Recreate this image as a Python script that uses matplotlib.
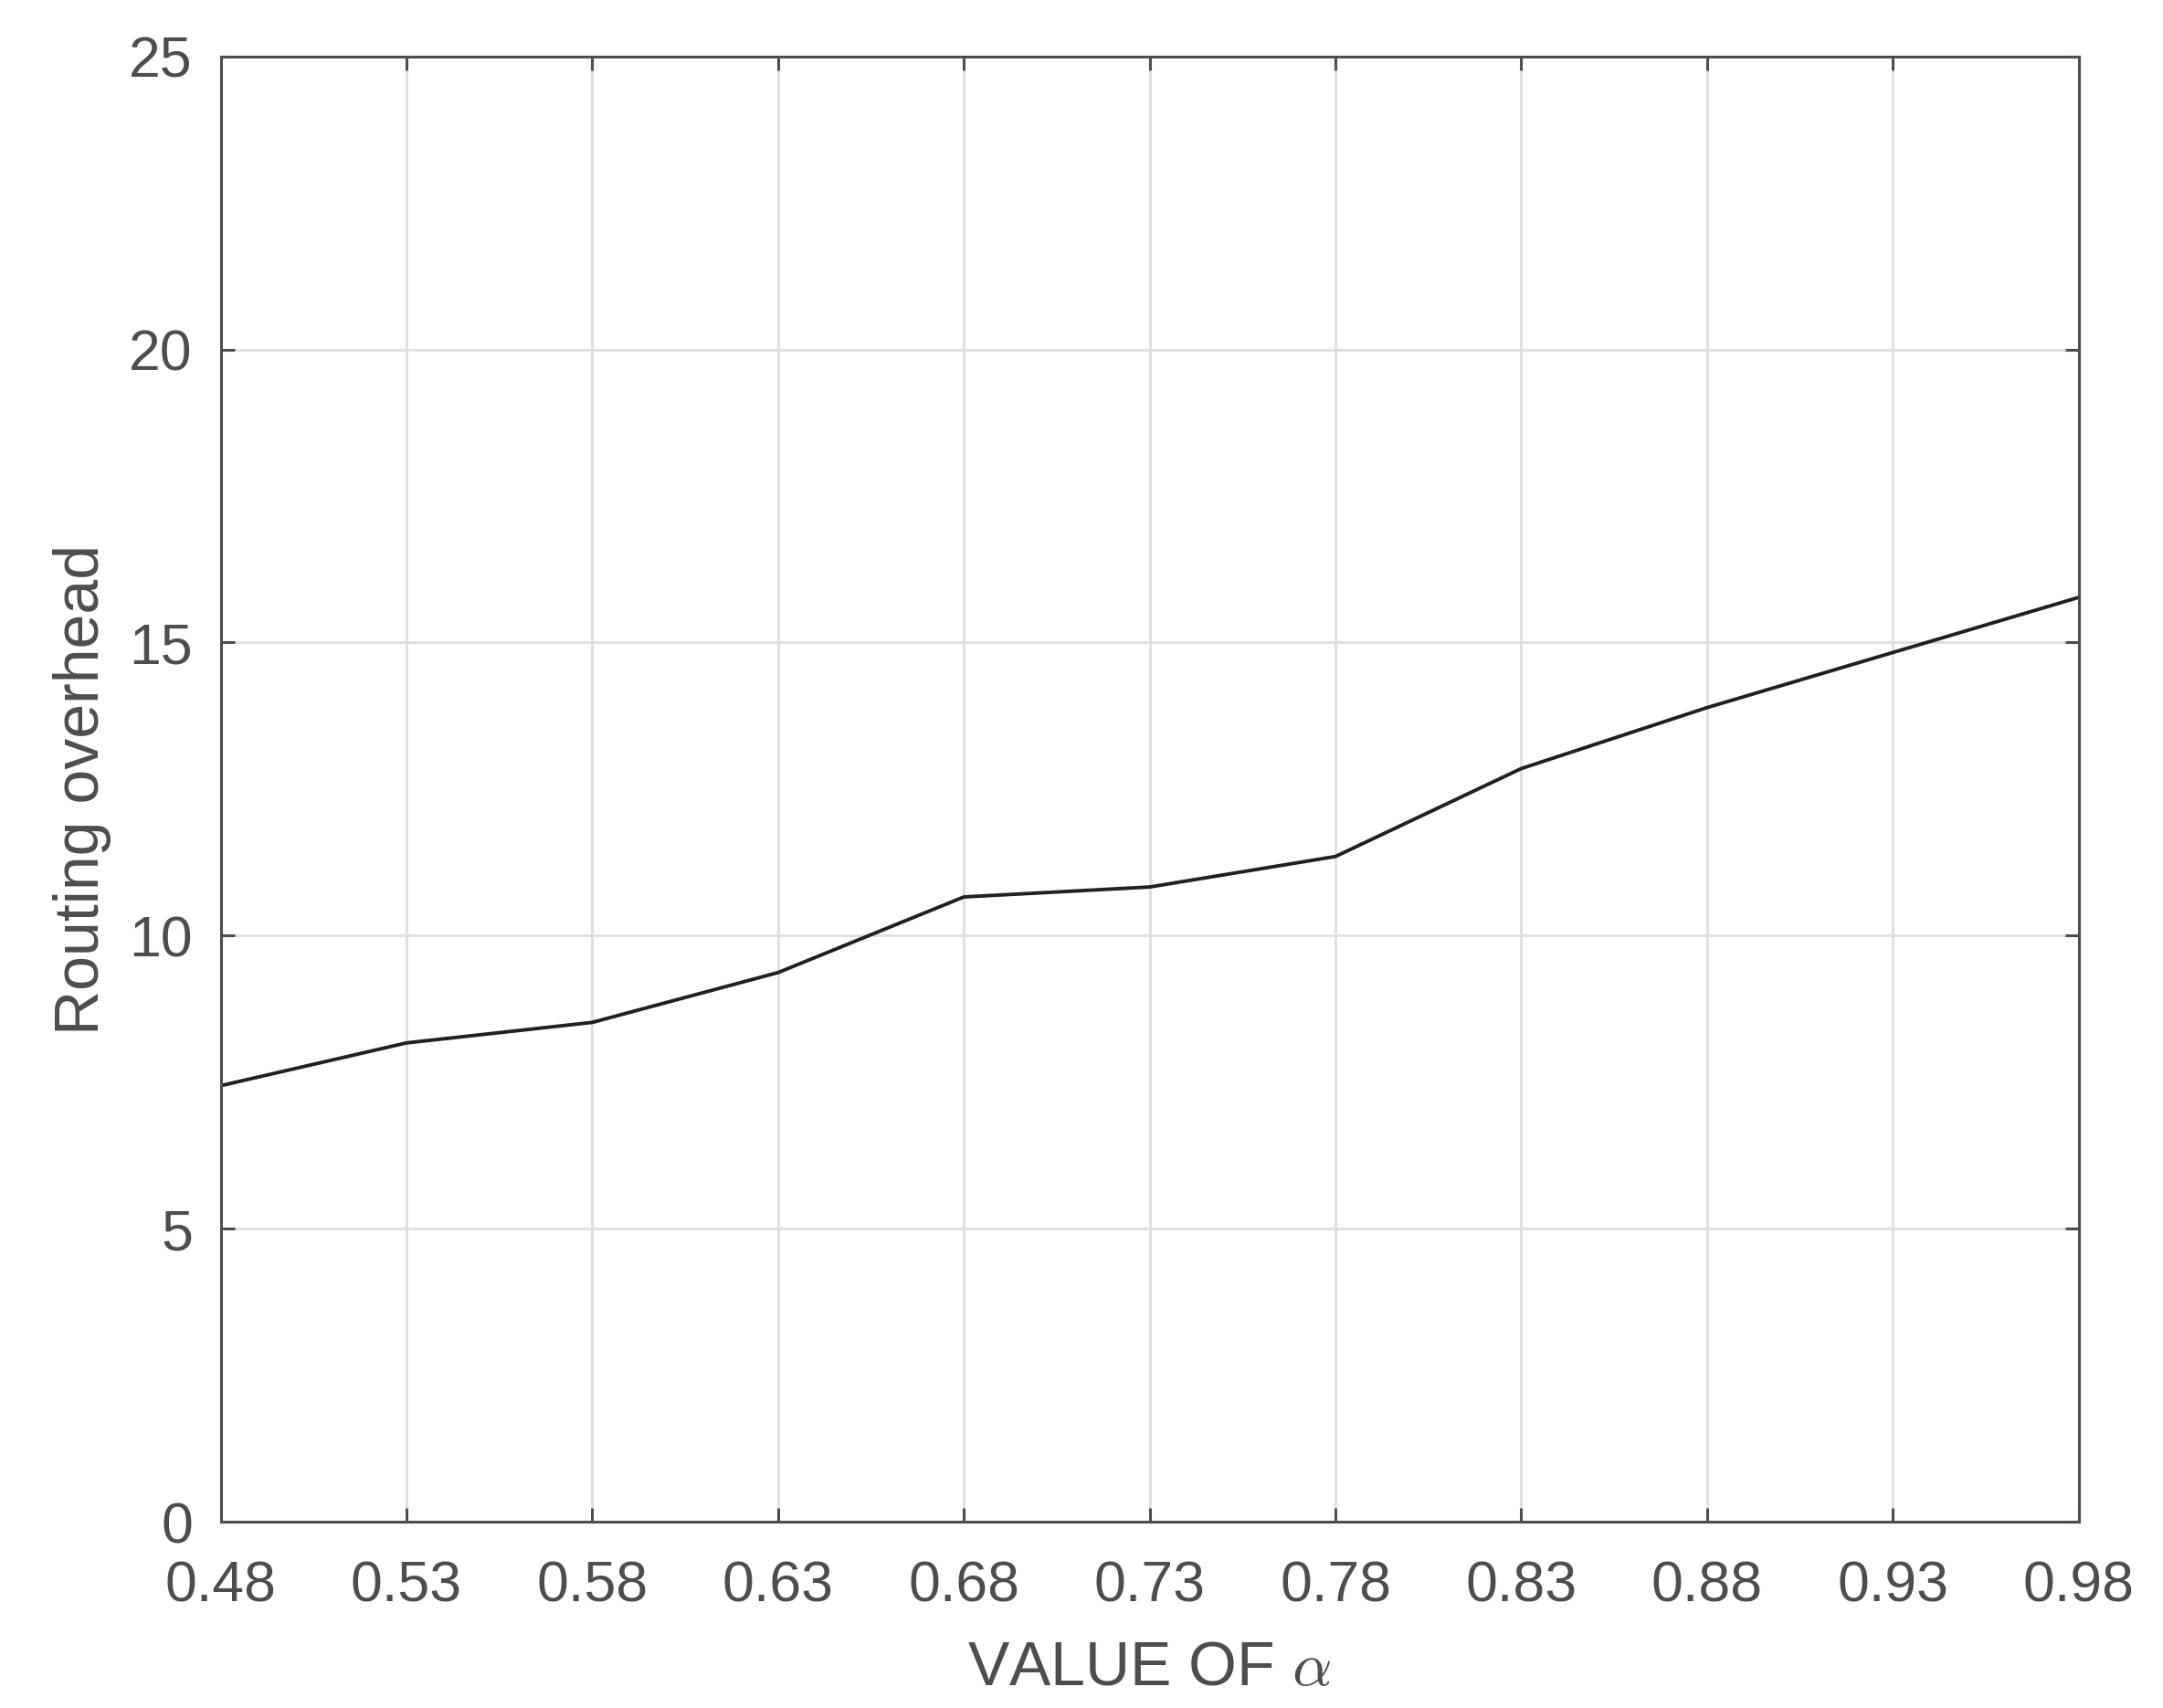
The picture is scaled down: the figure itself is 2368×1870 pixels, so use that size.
import matplotlib
matplotlib.use("Agg")
import matplotlib.pyplot as plt

# data
alpha = [0.48, 0.53, 0.58, 0.63, 0.68, 0.73, 0.78, 0.83, 0.88, 0.93, 0.98]
overhead = [7.44, 8.17, 8.52, 9.37, 10.66, 10.83, 11.35, 12.85, 13.89, 14.83, 15.77]
x_ticks = [0.48, 0.53, 0.58, 0.63, 0.68, 0.73, 0.78, 0.83, 0.88, 0.93, 0.98]
x_tick_labels = ["0.48", "0.53", "0.58", "0.63", "0.68", "0.73", "0.78", "0.83", "0.88", "0.93", "0.98"]
y_ticks = [0, 5, 10, 15, 20, 25]

plt.rcParams["font.family"] = ["Liberation Sans", "DejaVu Sans"]
plt.rcParams["mathtext.fontset"] = "cm"

axis_col = "#4d4d4d"

fig = plt.figure(figsize=(11.84, 9.35), dpi=200)
ax = fig.add_axes([0.102, 0.109, 0.859, 0.858])

ax.plot(alpha, overhead, color="#231f20", linewidth=1.4)

ax.set_xlim(0.48, 0.98)
ax.set_ylim(0, 25)
ax.set_xticks(x_ticks)
ax.set_xticklabels(x_tick_labels)
ax.set_yticks(y_ticks)

ax.grid(True, color="#dedede", linewidth=1.0)
ax.set_axisbelow(True)

for s in ax.spines.values():
    s.set_color(axis_col)
    s.set_linewidth(1.1)

ax.tick_params(direction="in", length=5.5, width=1.1, colors=axis_col,
               labelsize=22.5, top=True, right=True)
ax.tick_params(axis="x", pad=15)
ax.tick_params(axis="y", pad=11)

ax.set_xlabel("VALUE OF $\\alpha$", fontsize=24.5, color=axis_col, labelpad=10)
ax.set_ylabel("Routing overhead", fontsize=24.5, color=axis_col, labelpad=7)

fig.savefig("out.png", dpi=200)
